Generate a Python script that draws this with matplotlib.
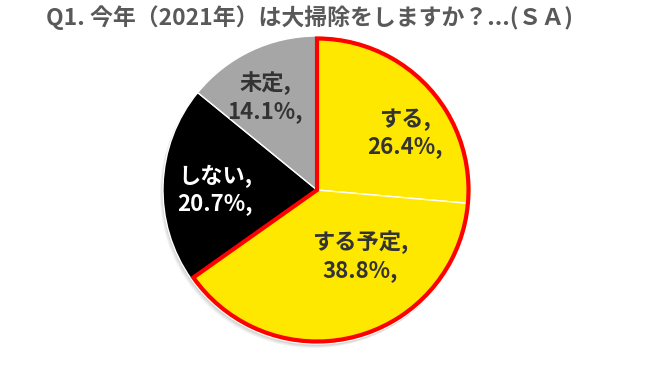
import matplotlib
matplotlib.use("Agg")
import matplotlib.pyplot as plt
from matplotlib.patches import Wedge, Circle

plt.rcParams['font.family'] = ['Noto Sans CJK JP', 'DejaVu Sans']

# ---------- data ----------
title = "Q1. 今年（2021年）は大掃除をしますか？...(ＳＡ)"
labels = ["する", "する予定", "しない", "未定"]
values = [26.4, 38.8, 20.7, 14.1]
colors = ["#FFE800", "#FFE800", "#000000", "#A6A6A6"]
text_colors = ["#333333", "#333333", "#FFFFFF", "#333333"]
highlight = [0, 1]   # slices outlined in red

W, H = 650, 379
fig = plt.figure(figsize=(W / 100, H / 100), dpi=100)
ax = fig.add_axes([0, 0, 1, 1])

cx, cy, r = 317, H - 190, 154

# soft shadow
for dx, dy, a in [(-3, -4, 0.10), (-2, -3, 0.12), (-1, -2, 0.15)]:
    ax.add_patch(Circle((cx + dx, cy + dy), r, color="#808080", alpha=a, lw=0, zorder=0))

wedges, _ = ax.pie(values, colors=colors, startangle=90, counterclock=False,
                   center=(cx, cy), radius=r,
                   wedgeprops=dict(edgecolor="white", linewidth=1.0))

# red outline around the "yes" group
frac = sum(values[i] for i in highlight) / sum(values)
ax.add_patch(Wedge((cx, cy), r - 2.5, 90 - frac * 360, 90, fill=False,
                   edgecolor="#FF0000", linewidth=3.0, joinstyle="miter", zorder=5))

# labels
label_pos = [(405, 133), (360, 256), (215, 190), (265, 97)]
for lab, v, (x, y), tc in zip(labels, values, label_pos, text_colors):
    ax.text(x, H - y, f"{lab},\n{v:.1f}%,", ha="center", va="center",
            fontsize=16, fontweight="bold", color=tc, linespacing=1.25, zorder=6)

ax.text(310, H - 18, title, ha="center", va="center",
        fontsize=16.5, fontweight="bold", color="#595959")

ax.set_xlim(0, W)
ax.set_ylim(0, H)
ax.set_aspect("equal")
ax.axis("off")
fig.savefig("out.png", dpi=100)
